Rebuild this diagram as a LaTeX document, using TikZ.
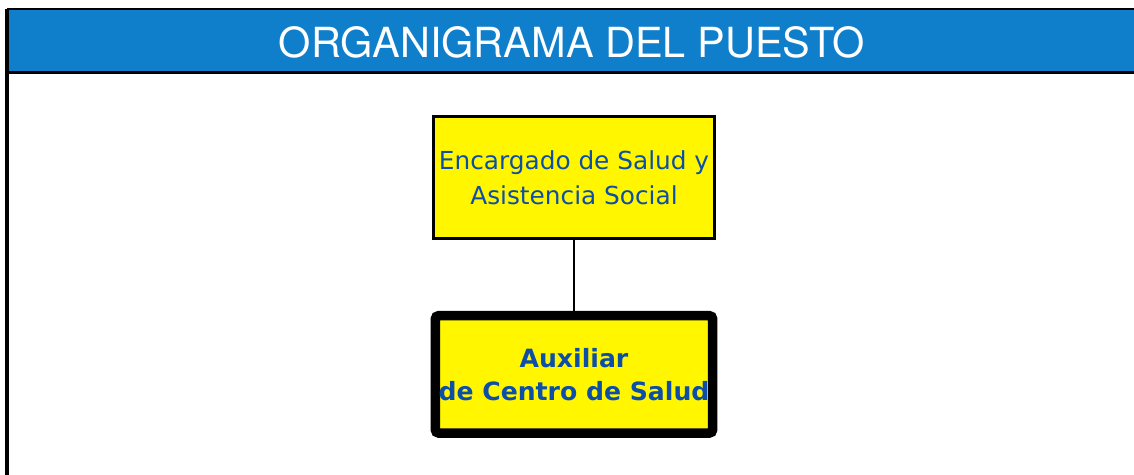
\documentclass[tikz,border=0pt]{standalone}
\usepackage{fontspec}
\newfontfamily\titlefont{TeX Gyre Heros}
\newfontfamily\boxfont{DejaVu Sans}
\usetikzlibrary{positioning}

\definecolor{bandblue}{RGB}{15,127,204}
\definecolor{boxyellow}{RGB}{255,246,0}
\definecolor{textblue}{RGB}{12,78,168}

\tikzset{
	post/.style={rectangle, draw=black, fill=boxyellow, text=textblue, align=center,
		font=\boxfont\fontsize{14.1pt}{20pt}\selectfont, inner sep=0pt},
	boss/.style={post, line width=1.6pt, minimum width=5.62cm, minimum height=2.44cm},
	self/.style={post, line width=5.4pt, rounded corners=2pt, minimum width=5.55cm, minimum height=2.35cm,
		font=\boxfont\bfseries\fontsize{14.3pt}{19pt}\selectfont},
	link/.style={draw=black, line width=1.4pt}
}

\begin{document}
	\begin{tikzpicture}[x=0.02cm, y=-0.02cm]
		\useasboundingbox (0,0) rectangle (1134,475);

		\fill[bandblue] (7,9) rectangle (1134,73);
		\node[text=white, font=\titlefont\fontsize{23.6pt}{28pt}\selectfont] (title) at (572,42) {ORGANIGRAMA DEL PUESTO};
		\draw[line width=1.2pt] (7,9) -- (1134,9);
		\draw[line width=1.7pt] (7,73) -- (1134,73);
		\draw[line width=1.8pt] (7,9) -- (7,475);

		\node[boss] (jefe) at (574,177.5) {Encargado de Salud y\\Asistencia Social};
		\node[self, below = 1.42cm of jefe] (puesto) {Auxiliar\\de Centro de Salud};

		\draw[link] (jefe) -- (puesto);
	\end{tikzpicture}
\end{document}
